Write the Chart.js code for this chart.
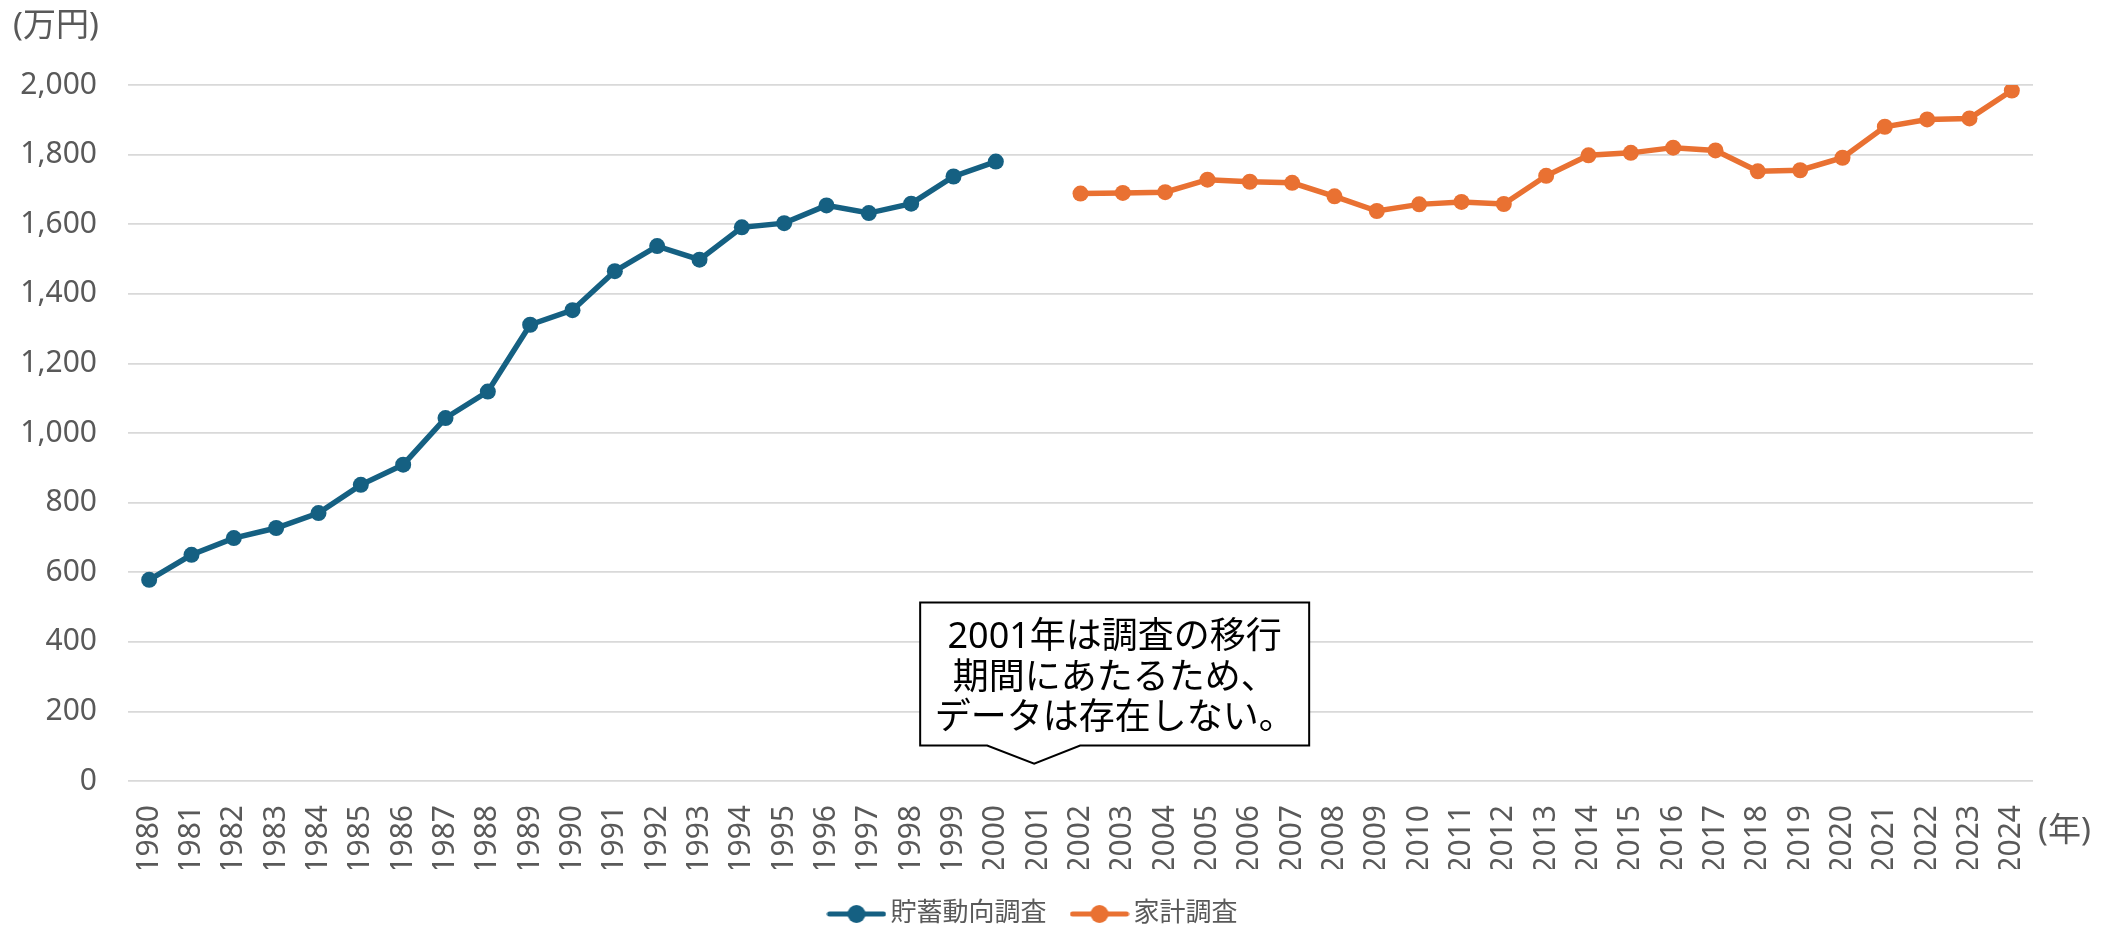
<!DOCTYPE html>
<html lang="ja">
<head>
<meta charset="utf-8">
<title>貯蓄現在高の推移</title>
<script src="https://cdn.jsdelivr.net/npm/chart.js@4"></script>
<style>
  body { margin: 0; background: #fff; }
  #chart { display: block; }
</style>
</head>
<body>
<canvas id="chart" width="2118" height="930"></canvas>
<script>
// categories (年)
const years = ['1980', '1981', '1982', '1983', '1984', '1985', '1986', '1987', '1988', '1989',
    '1990', '1991', '1992', '1993', '1994', '1995', '1996', '1997', '1998', '1999',
    '2000', '2001', '2002', '2003', '2004', '2005', '2006', '2007', '2008', '2009',
    '2010', '2011', '2012', '2013', '2014', '2015', '2016', '2017', '2018', '2019',
    '2020', '2021', '2022', '2023', '2024'];

// 貯蓄動向調査 1980-2000 (万円)
const savingsYears = ['1980', '1981', '1982', '1983', '1984', '1985', '1986', '1987', '1988', '1989',
    '1990', '1991', '1992', '1993', '1994', '1995', '1996', '1997', '1998', '1999', '2000'];
const savingsValues = [578, 650, 698, 727, 770, 851, 909, 1043, 1119, 1311,
    1353, 1465, 1537, 1498, 1591, 1603, 1654, 1632, 1659, 1737, 1780];

// 家計調査 2002-2024 (万円)
const householdYears = ['2002', '2003', '2004', '2005', '2006', '2007', '2008', '2009', '2010', '2011',
    '2012', '2013', '2014', '2015', '2016', '2017', '2018', '2019', '2020', '2021',
    '2022', '2023', '2024'];
const householdValues = [1688, 1690, 1692, 1728, 1722, 1719, 1680, 1638, 1657, 1664,
    1658, 1739, 1798, 1805, 1820, 1812, 1752, 1755, 1791, 1880,
    1901, 1904, 1984];

// y axis ticks
const yMin = 0;
const yMax = 2000;
const yStep = 200;

const seriesNames = ['貯蓄動向調査', '家計調査'];
const seriesColors = ['#156082', '#E97132'];

const noteLines = ['2001年は調査の移行', '期間にあたるため、', 'データは存在しない。'];
const noteYear = '2001';

const FONT = '"Noto Sans", "Noto Sans CJK JP", sans-serif';
const GREY = '#595959';

// put values onto the full year axis (null where the survey has no data)
function toSeries(srcYears, srcValues) {
    return years.map(y => {
        const i = srcYears.indexOf(y);
        return i === -1 ? null : srcValues[i];
    });
}

// legend icon: short line with a dot in the middle
function legendIcon(color) {
    const c = document.createElement('canvas');
    c.width = 60;
    c.height = 20;
    const g = c.getContext('2d');
    g.strokeStyle = color;
    g.lineWidth = 5;
    g.lineCap = 'round';
    g.beginPath();
    g.moveTo(3, 10);
    g.lineTo(57, 10);
    g.stroke();
    g.fillStyle = color;
    g.beginPath();
    g.arc(30, 10, 9, 0, Math.PI * 2);
    g.fill();
    return c;
}
const icons = seriesColors.map(legendIcon);

// unit labels and the callout box
const extrasPlugin = {
    id: 'extras',
    afterLayout(chart) {
        // legend sits a little left of the canvas centre in the original
        chart.legend.left += 40;
    },
    afterDraw(chart) {
        const ctx = chart.ctx;
        const x = chart.scales.x;
        const y = chart.scales.y;

        ctx.save();
        ctx.fillStyle = GREY;
        ctx.font = '33px ' + FONT;
        ctx.textBaseline = 'middle';
        ctx.textAlign = 'left';
        ctx.fillText('(万円)', 13, 27);
        ctx.fillText('(年)', x.right + 5, 832);

        // callout pointing at 2001
        const tipX = x.getPixelForValue(years.indexOf(noteYear)) - 4;
        const tipY = y.getPixelForValue(50);
        const left = tipX - 114;
        const right = tipX + 275;
        const top = tipY - 161;
        const bottom = tipY - 18;

        ctx.beginPath();
        ctx.moveTo(left, top);
        ctx.lineTo(right, top);
        ctx.lineTo(right, bottom);
        ctx.lineTo(tipX + 46, bottom);
        ctx.lineTo(tipX, tipY);
        ctx.lineTo(tipX - 47, bottom);
        ctx.lineTo(left, bottom);
        ctx.closePath();
        ctx.fillStyle = '#fff';
        ctx.fill();
        ctx.lineWidth = 2;
        ctx.strokeStyle = '#000';
        ctx.stroke();

        ctx.fillStyle = '#000';
        ctx.textAlign = 'center';
        ctx.font = '36px ' + FONT;
        const cx = (left + right) / 2;
        const offsets = [-126, -85, -45];
        noteLines.forEach((line, i) => {
            ctx.fillText(line, cx, tipY + offsets[i]);
        });
        ctx.restore();
    }
};

const ctx = document.getElementById('chart').getContext('2d');
new Chart(ctx, {
    type: 'line',
    data: {
        labels: years,
        datasets: [
            {
                label: seriesNames[0],
                data: toSeries(savingsYears, savingsValues),
                borderColor: seriesColors[0],
                backgroundColor: seriesColors[0],
                borderWidth: 5.5,
                pointRadius: 8,
                pointHoverRadius: 8,
                pointBorderWidth: 0,
                spanGaps: false
            },
            {
                label: seriesNames[1],
                data: toSeries(householdYears, householdValues),
                borderColor: seriesColors[1],
                backgroundColor: seriesColors[1],
                borderWidth: 5.5,
                pointRadius: 8,
                pointHoverRadius: 8,
                pointBorderWidth: 0,
                spanGaps: false
            }
        ]
    },
    options: {
        responsive: false,
        animation: false,
        devicePixelRatio: 1,
        layout: {
            padding: { left: 0, right: 85, top: 85, bottom: -7 }
        },
        scales: {
            x: {
                offset: true,
                grid: { display: false },
                border: { display: false },
                ticks: {
                    color: GREY,
                    font: { family: FONT, size: 30 },
                    minRotation: 90,
                    maxRotation: 90,
                    autoSkip: false,
                    padding: 16
                },
                afterFit(scale) { scale.height = 88; }
            },
            y: {
                min: yMin,
                max: yMax,
                border: { display: false },
                grid: { color: '#D9D9D9', lineWidth: 1.8, drawTicks: false },
                ticks: {
                    stepSize: yStep,
                    color: GREY,
                    font: { family: FONT, size: 30 },
                    padding: 31,
                    callback: v => v.toLocaleString('en-US')
                },
                afterFit(scale) { scale.width = 128; }
            }
        },
        plugins: {
            tooltip: { enabled: false },
            legend: {
                position: 'bottom',
                labels: {
                    usePointStyle: true,
                    pointStyleWidth: 42,
                    padding: 32,
                    color: GREY,
                    font: { family: FONT, size: 26 },
                    generateLabels(chart) {
                        const items = Chart.defaults.plugins.legend.labels.generateLabels(chart);
                        items.forEach(item => { item.pointStyle = icons[item.datasetIndex]; });
                        return items;
                    }
                }
            }
        }
    },
    plugins: [extrasPlugin]
});
</script>
</body>
</html>
